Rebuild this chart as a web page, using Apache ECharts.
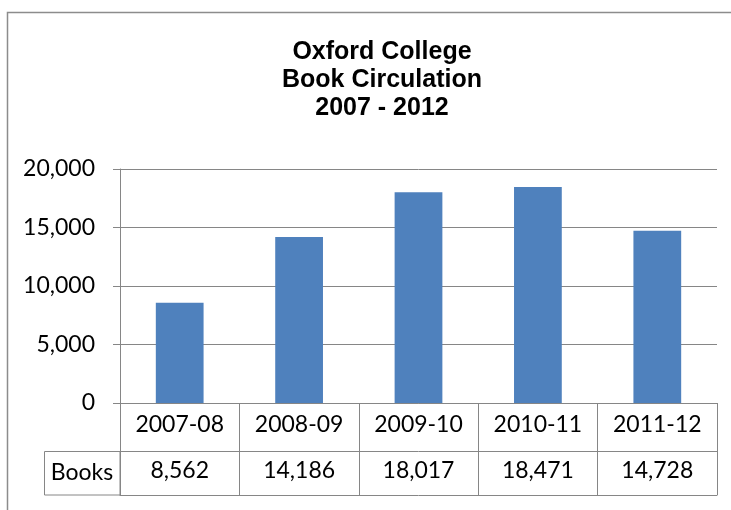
<!DOCTYPE html>
<html>
<head>
<meta charset="utf-8">
<script src="https://cdn.jsdelivr.net/npm/echarts@6/dist/echarts.min.js"></script>
<style>
  html, body { margin: 0; padding: 0; background: #fff; }
  #chart { width: 731px; height: 510px; }
</style>
</head>
<body>
<div id="chart"></div>
<script>
// chart data
const seasons = ['2007-08', '2008-09', '2009-10', '2010-11', '2011-12']
const books = [8562, 14186, 18017, 18471, 14728]
const yTicks = { min: 0, max: 20000, interval: 5000 }

const lineGray = '#868686'
const labelFont = 'Lato, "Open Sans", sans-serif'

const fmt = (v) => Number(v).toLocaleString('en-US')

const chart = echarts.init(document.getElementById('chart'))

const option = {
  animation: false,
  title: {
    text: 'Oxford College\nBook Circulation\n2007 - 2012',
    left: 377,
    top: 33,
    textAlign: 'center',
    textStyle: {
      fontFamily: '"Liberation Sans", Arial, sans-serif',
      fontWeight: 'bold',
      fontSize: 25,
      lineHeight: 28,
      color: '#000'
    }
  },
  grid: {
    left: 120,
    right: 14,
    top: 169,
    bottom: 107
  },
  xAxis: [
    {
      type: 'category',
      data: seasons,
      position: 'bottom',
      axisLine: { lineStyle: { color: lineGray } },
      axisTick: { show: true, length: 48, lineStyle: { color: lineGray } },
      axisLabel: { color: '#000', fontFamily: labelFont, fontSize: 23, margin: 10 }
    },
    {
      type: 'category',
      data: seasons,
      position: 'bottom',
      offset: 48,
      axisLine: { lineStyle: { color: lineGray } },
      axisTick: { show: true, length: 44, lineStyle: { color: lineGray } },
      axisLabel: {
        color: '#000',
        fontFamily: labelFont,
        fontSize: 23,
        margin: 8,
        formatter: (v, i) => fmt(books[i])
      }
    },
    {
      type: 'category',
      data: seasons,
      position: 'bottom',
      offset: 92,
      axisLine: { lineStyle: { color: lineGray } },
      axisTick: { show: false },
      axisLabel: { show: false }
    }
  ],
  yAxis: {
    type: 'value',
    min: yTicks.min,
    max: yTicks.max,
    interval: yTicks.interval,
    axisLine: { show: true, lineStyle: { color: lineGray } },
    axisTick: { show: true, length: 7, lineStyle: { color: lineGray } },
    splitLine: { lineStyle: { color: lineGray } },
    axisLabel: {
      color: '#000',
      fontFamily: labelFont,
      fontSize: 23,
      margin: 25,
      formatter: fmt
    }
  },
  graphic: [
    {
      type: 'rect',
      shape: { x: 7.5, y: 12.5, width: 730, height: 600 },
      style: { fill: 'none', stroke: '#8c8c8c', lineWidth: 1.5 },
      silent: true
    },
    {
      type: 'rect',
      shape: { x: 44.5, y: 451.5, width: 75.5, height: 43.5 },
      style: { fill: 'none', stroke: lineGray, lineWidth: 1 },
      silent: true
    },
    {
      type: 'text',
      x: 82,
      y: 473,
      style: {
        text: 'Books',
        fontFamily: labelFont,
        fontSize: 23,
        fill: '#000',
        align: 'center',
        verticalAlign: 'middle'
      },
      silent: true
    }
  ],
  series: [
    {
      name: 'Books',
      type: 'bar',
      barWidth: '40%',
      data: books,
      itemStyle: { color: '#4F81BD' }
    }
  ]
}

chart.setOption(option)
</script>
</body>
</html>
